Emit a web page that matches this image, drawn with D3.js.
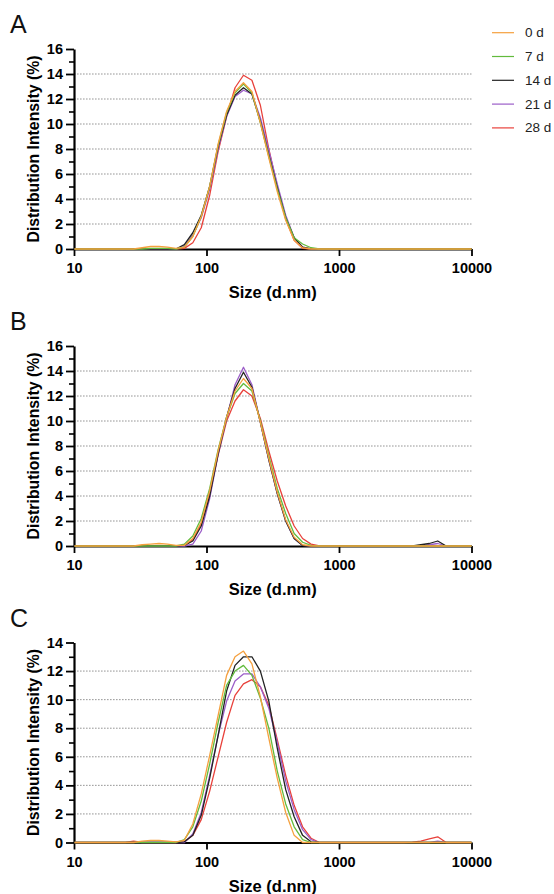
<!DOCTYPE html>
<html>
<head>
<meta charset="utf-8">
<script src="https://cdn.jsdelivr.net/npm/d3@7"></script>
<style>
  body { margin: 0; background: #fff; }
  text { font-family: "Liberation Sans", Arial, sans-serif; }
</style>
</head>
<body>
<div id="chart"></div>
<script>
// particle size bins (d.nm), shared by every curve
const sizes = [10.10, 11.70, 13.54, 15.69, 18.17, 21.04, 24.36, 28.21,
  32.67, 37.84, 43.82, 50.75, 58.77, 68.06, 78.82, 91.28,
  105.7, 122.4, 141.8, 164.2, 190.1, 220.2, 255.0, 295.3,
  342.0, 396.1, 458.7, 531.2, 615.1, 712.4, 825.0, 955.4,
  1106, 1281, 1484, 1718, 1990, 2305, 2669, 3091,
  3580, 4145, 4801, 5560, 6439, 7456, 8635, 10000];

const days = ["0 d", "7 d", "14 d", "21 d", "28 d"];
const dayColors = ["#F5A03E", "#62BB3C", "#222222", "#9B5DC8", "#E8413B"];
const xTicks = [10, 100, 1000, 10000];

// panel A
const a0 = [0,0,0,0,0,0,0,0, 0.1,0.2,0.2,0.15,0.05,0.15,1.0,2.6, 5.0,8.4,11.0,12.6,13.3,12.6,10.1,7.3, 4.6,2.3,0.7,0.1,0,0,0,0, 0,0,0,0,0,0,0,0, 0,0,0,0,0,0,0,0];
const a7 = [0,0,0,0,0,0,0,0, 0,0.05,0.05,0.05,0,0.15,1.0,2.6, 5.0,8.3,10.9,12.5,13.2,12.5,10.1,7.4, 4.8,2.5,0.9,0.4,0.1,0,0,0, 0,0,0,0,0,0,0,0, 0,0,0,0,0,0,0,0];
const a14 = [0,0,0,0,0,0,0,0, 0,0,0,0,0,0.35,1.3,2.7, 5.0,8.2,10.7,12.3,12.9,12.4,10.2,7.5, 4.9,2.5,0.9,0.15,0,0,0,0, 0,0,0,0,0,0,0,0, 0,0,0,0,0,0,0,0];
const a21 = [0,0,0,0,0,0,0,0, 0,0,0,0,0,0.2,1.1,2.5, 4.8,8.0,10.6,12.2,12.7,12.4,10.5,7.9, 5.2,2.7,0.9,0.15,0,0,0,0, 0,0,0,0,0,0,0,0, 0,0,0,0,0,0,0,0];
const a28 = [0,0,0,0,0,0,0,0, 0,0,0,0,0,0.05,0.5,1.7, 4.3,7.8,10.6,12.9,13.9,13.5,11.5,8.0, 5.0,2.4,0.7,0.05,0,0,0,0, 0,0,0,0,0,0,0,0, 0,0,0,0,0,0,0,0];

// panel B
const b0 = [0,0,0,0,0,0,0,0, 0.1,0.15,0.2,0.15,0.05,0.05,0.6,1.9, 4.4,7.6,10.3,12.4,13.4,12.6,9.9,7.0, 4.3,2.1,0.7,0.1,0,0,0,0, 0,0,0,0,0,0,0,0, 0,0,0,0,0,0,0,0];
const b7 = [0,0,0,0,0,0,0,0, 0,0,0,0,0,0.15,0.8,2.2, 4.6,7.7,10.3,12.2,13.0,12.4,10.0,7.2, 4.6,2.6,1.0,0.3,0.05,0,0,0, 0,0,0,0,0,0,0,0, 0,0,0,0,0,0,0,0];
const b14 = [0,0,0,0,0,0,0,0, 0,0,0,0,0,0.05,0.4,1.6, 4.0,7.4,10.3,12.6,13.9,12.7,9.9,6.9, 4.2,2.0,0.6,0.05,0,0,0,0, 0,0,0,0,0,0,0,0, 0,0.1,0.2,0.4,0,0,0,0];
const b21 = [0,0,0,0,0,0,0,0, 0,0,0,0,0,0,0.15,1.2, 3.8,7.3,10.2,12.9,14.3,12.9,9.9,6.9, 4.2,2.0,0.6,0.05,0,0,0,0, 0,0,0,0,0,0,0,0, 0,0,0.1,0.2,0,0,0,0];
const b28 = [0,0,0,0,0,0,0,0, 0,0,0,0,0,0.05,0.5,1.8, 4.2,7.3,10.0,11.6,12.5,12.0,10.2,7.6, 5.2,3.2,1.6,0.6,0.15,0,0,0, 0,0,0,0,0,0,0,0, 0,0,0,0,0,0,0,0];

// panel C
const c0 = [0,0,0,0,0,0,0,0, 0.1,0.15,0.15,0.1,0.05,0.15,1.3,3.4, 6.1,8.9,11.7,13.0,13.4,12.5,10.2,7.3, 4.5,2.1,0.5,0,0,0,0,0, 0,0,0,0,0,0,0,0, 0,0,0,0,0,0,0,0];
const c7 = [0,0,0,0,0,0,0,0, 0,0,0,0,0,0.2,1.1,2.9, 5.5,8.4,11.0,12.0,12.4,11.7,10.1,8.0, 5.0,2.7,1.1,0.2,0,0,0,0, 0,0,0,0,0,0,0,0, 0,0,0,0,0,0,0,0];
const c14 = [0,0,0,0,0,0,0,0, 0,0,0,0,0,0.05,0.5,1.9, 4.5,7.5,10.6,12.4,13.0,13.0,12.0,9.9, 6.6,3.7,1.8,0.5,0.05,0,0,0, 0,0,0,0,0,0,0,0, 0,0,0,0,0,0,0,0];
const c21 = [0,0,0,0,0,0,0,0, 0,0,0,0,0,0,0.6,2.1, 4.7,7.5,9.9,11.3,11.8,11.8,10.9,9.4, 7.0,4.3,2.3,0.9,0.2,0,0,0, 0,0,0,0,0,0,0,0, 0,0,0,0.1,0,0,0,0];
const c28 = [0,0,0,0,0,0,0,0.1, 0,0,0,0,0,0.05,0.5,1.6, 3.6,6.0,8.4,10.3,11.1,11.4,10.9,9.6, 7.2,4.7,2.6,1.1,0.3,0,0,0, 0,0,0,0,0,0,0,0, 0.02,0.1,0.25,0.4,0,0,0,0];

const W = 554, H = 894;
const left = 74, right = 471.5, plotH = 200;

const svg = d3.select("#chart").append("svg")
    .attr("width", W)
    .attr("height", H);

const x = d3.scaleLog().domain([10, 10000]).range([left, right]);

function styleLabels(s) {
    s.selectAll("text")
        .attr("font-family", "Liberation Sans, Arial, sans-serif")
        .attr("font-weight", "bold")
        .attr("font-size", 14.5)
        .attr("fill", "#000");
}

function drawPanel(letter, top, yMax, series) {
    const y = d3.scaleLinear().domain([0, yMax]).range([top + plotH, top]);
    const g = svg.append("g");

    // dotted grid
    const grid = d3.range(2, yMax, 2);
    g.selectAll("line.grid").data(grid).enter().append("line")
        .attr("class", "grid")
        .attr("x1", left).attr("x2", right)
        .attr("y1", d => y(d)).attr("y2", d => y(d))
        .attr("stroke", "#8a8a8a")
        .attr("stroke-width", 0.9)
        .attr("stroke-dasharray", "1.6,1.4");

    // minor y ticks
    g.append("g")
        .attr("transform", `translate(${left},0)`)
        .call(d3.axisLeft(y).tickValues(d3.range(1, yMax, 2)).tickSize(5).tickFormat(""))
        .call(s => s.select(".domain").remove())
        .call(s => s.selectAll("line").attr("stroke", "#000").attr("stroke-width", 1.6));

    // major y ticks
    g.append("g")
        .attr("transform", `translate(${left},0)`)
        .call(d3.axisLeft(y).tickValues(d3.range(0, yMax + 1, 2)).tickSize(8).tickSizeOuter(0).tickPadding(3))
        .call(s => s.select(".domain").attr("stroke", "#000").attr("stroke-width", 2.2))
        .call(s => s.selectAll("line").attr("stroke", "#000").attr("stroke-width", 1.8))
        .call(styleLabels);

    // x axis
    g.append("g")
        .attr("transform", `translate(0,${top + plotH})`)
        .call(d3.axisBottom(x).tickValues(xTicks).tickFormat(d3.format("d")).tickSize(7).tickSizeOuter(0).tickPadding(7))
        .call(s => s.select(".domain").attr("stroke", "#000").attr("stroke-width", 2.2))
        .call(s => s.selectAll("line").attr("stroke", "#000").attr("stroke-width", 1.8))
        .call(styleLabels);

    // curves, last day first so 0 d ends up on top
    const line = d3.line()
        .x((d, i) => x(sizes[i]))
        .y(d => y(d));
    series.slice().reverse().forEach((vals, k) => {
        const idx = series.length - 1 - k;
        g.append("path")
            .datum(vals)
            .attr("d", line)
            .attr("fill", "none")
            .attr("stroke", dayColors[idx])
            .attr("stroke-width", 1.3)
            .attr("stroke-linejoin", "round");
    });

    // titles
    g.append("text")
        .attr("x", 10)
        .attr("y", top - 16)
        .attr("font-size", 25)
        .attr("fill", "#111")
        .text(letter);

    g.append("text")
        .attr("transform", `translate(33,${top + plotH / 2}) rotate(-90)`)
        .attr("text-anchor", "middle")
        .attr("dominant-baseline", "central")
        .attr("font-weight", "bold")
        .attr("font-size", 15.8)
        .attr("fill", "#000")
        .text("Distribution Intensity (%)");

    g.append("text")
        .attr("x", (left + right) / 2)
        .attr("y", top + plotH + 49)
        .attr("text-anchor", "middle")
        .attr("font-weight", "bold")
        .attr("font-size", 16.5)
        .attr("fill", "#000")
        .text("Size (d.nm)");
}

drawPanel("A", 49, 16, [a0, a7, a14, a21, a28]);
drawPanel("B", 346, 16, [b0, b7, b14, b21, b28]);
drawPanel("C", 642.5, 14, [c0, c7, c14, c21, c28]);

// legend
const legend = svg.append("g");
days.forEach((d, i) => {
    const ly = 32.7 + i * 23.8;
    legend.append("line")
        .attr("x1", 492).attr("x2", 514)
        .attr("y1", ly).attr("y2", ly)
        .attr("stroke", dayColors[i])
        .attr("stroke-width", 1.2);
    legend.append("text")
        .attr("x", 525)
        .attr("y", ly)
        .attr("dominant-baseline", "central")
        .attr("font-size", 13.5)
        .attr("fill", "#222")
        .text(d);
});
</script>
</body>
</html>
